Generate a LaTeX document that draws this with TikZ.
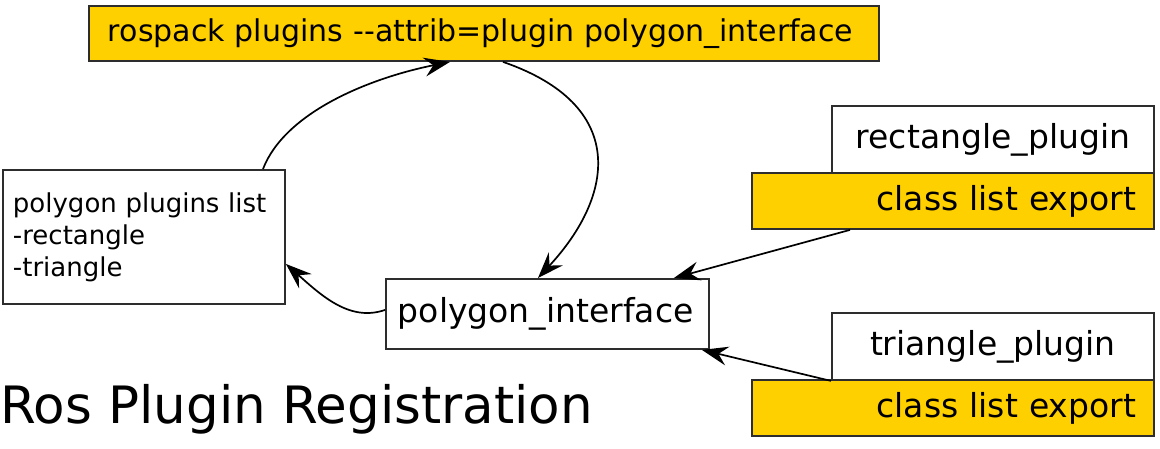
\documentclass[tikz,border=0pt]{standalone}
\usepackage{fontspec}
\setmainfont{DejaVu Sans}
\usetikzlibrary{arrows.meta}
\definecolor{gold}{RGB}{255,208,0}
\definecolor{edge}{RGB}{45,45,45}
\tikzset{
  box/.style={draw=edge, line width=1.9pt, rectangle, anchor=north west, inner ysep=0pt},
  wbox/.style={box, fill=white},
  ybox/.style={box, fill=gold},
  conn/.style={draw=black, line width=1.7pt, -{Stealth[length=26pt,width=19pt,inset=9pt]}},
}
\begin{document}
\begin{tikzpicture}[x=1pt,y=-1pt]
\useasboundingbox (0,0) rectangle (1160,448);
% top command box
\node[ybox, minimum height=55pt, inner xsep=19pt, text width=752pt, align=left,
      font=\fontsize{30}{36}\selectfont] (top) at (88,5)
  {rospack plugins \mbox{-}\mbox{-}attrib=plugin polygon\_interface};
% plugin list
\node[wbox, minimum height=134pt, inner xsep=10pt, text width=262pt, align=left,
      font=\fontsize{26}{32}\selectfont] (lst) at (2,169)
  {polygon plugins list\\-rectangle\\-triangle};
% interface
\node[wbox, minimum height=70pt, inner xsep=12pt, text width=299pt, align=left,
      font=\fontsize{33}{40}\selectfont] (pi) at (385,278) {polygon\_interface};
% rectangle plugin
\node[wbox, minimum height=67pt, inner xsep=0pt, text width=322pt, align=center,
      font=\fontsize{33}{40}\selectfont] (r1) at (831,105) {rectangle\_plugin};
\node[ybox, minimum height=56pt, inner xsep=18pt, text width=366pt, align=right,
      font=\fontsize{33}{40}\selectfont] (y1) at (751,172) {class list export};
% triangle plugin
\node[wbox, minimum height=67pt, inner xsep=0pt, text width=322pt, align=center,
      font=\fontsize{33}{40}\selectfont] (t1) at (831,312) {triangle\_plugin};
\node[ybox, minimum height=56pt, inner xsep=18pt, text width=366pt, align=right,
      font=\fontsize{33}{40}\selectfont] (y2) at (751,379) {class list export};
% title
\node[anchor=base west, inner sep=0pt, font=\fontsize{51.5}{60}\selectfont] (title) at (0,423)
  {Ros Plugin Registration};
% connectors
\draw[conn] ([xshift=261pt]lst.north west) .. controls (285,112) and (370,78) .. ([xshift=362pt]top.south west);
\draw[conn] ([xshift=415pt]top.south west) .. controls (628,105) and (615,195) .. ([xshift=153pt]pi.north west);
\draw[conn] ([yshift=4pt]pi.west) .. controls (350,322) and (322,296) .. ([yshift=-27pt]lst.east);
\draw[conn] ([xshift=99pt]y1.south west) -- ([xshift=-36pt]pi.north east);
\draw[conn] (t1.south west) -- ([xshift=-8pt]pi.south east);
\end{tikzpicture}
\end{document}
